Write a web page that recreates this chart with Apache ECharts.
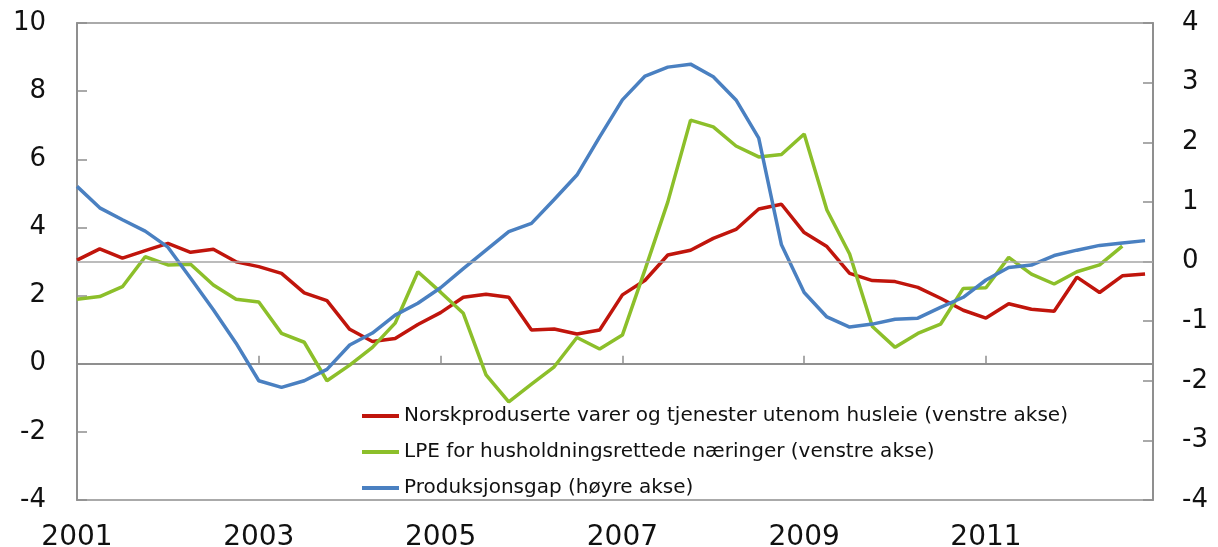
<!DOCTYPE html>
<html>
<head>
<meta charset="utf-8">
<script src="https://cdn.jsdelivr.net/npm/echarts@6/dist/echarts.min.js"></script>
<style>
  html, body { margin: 0; padding: 0; background: #fff; }
  #chart { width: 1218px; height: 547px; }
</style>
</head>
<body>
<div id="chart"></div>
<script>
// kvartalsdata 2001K1 - 2012K4 (x = kvartal nr. fra 2001K1)
var startYear = 2001
var quarters = []
for (var q = 0; q < 48; q++) quarters.push(q)

var seriesNames = [
  'Norskproduserte varer og tjenester utenom husleie (venstre akse)',
  'LPE for husholdningsrettede næringer (venstre akse)',
  'Produksjonsgap (høyre akse)'
]

// venstre akse
var norskprodusert = [3.04, 3.37, 3.10, 3.32, 3.53, 3.27, 3.36, 2.99, 2.85, 2.65,
  2.08, 1.85, 1.01, 0.65, 0.74, 1.15, 1.50, 1.95, 2.04, 1.95,
  0.99, 1.02, 0.87, 0.99, 2.02, 2.45, 3.19, 3.33, 3.68, 3.94,
  4.54, 4.68, 3.85, 3.44, 2.65, 2.44, 2.41, 2.24, 1.92, 1.57,
  1.34, 1.76, 1.60, 1.54, 2.54, 2.09, 2.58, 2.63]

var lpe = [1.89, 1.97, 2.26, 3.14, 2.90, 2.92, 2.31, 1.89, 1.81, 0.89,
  0.63, -0.50, -0.04, 0.48, 1.19, 2.70, 2.10, 1.48, -0.33, -1.12,
  -0.60, -0.09, 0.77, 0.43, 0.84, 2.77, 4.75, 7.15, 6.95, 6.39,
  6.07, 6.14, 6.74, 4.51, 3.22, 1.09, 0.48, 0.89, 1.16, 2.21,
  2.23, 3.12, 2.63, 2.34, 2.70, 2.90, 3.45, null]

// høyre akse
var produksjonsgap = [1.26, 0.90, 0.70, 0.51, 0.24, -0.28, -0.81, -1.37, -2.00, -2.11,
  -2.00, -1.81, -1.40, -1.20, -0.90, -0.70, -0.44, -0.12, 0.19, 0.50,
  0.64, 1.04, 1.45, 2.09, 2.71, 3.11, 3.26, 3.31, 3.10, 2.71,
  2.07, 0.28, -0.52, -0.93, -1.10, -1.05, -0.97, -0.95, -0.77, -0.60,
  -0.31, -0.10, -0.06, 0.10, 0.19, 0.27, 0.31, 0.35]

function pairs(arr) {
  return quarters.map(function (q, i) { return [q, arr[i]] })
}

var chart = echarts.init(document.getElementById('chart'))
var axisGrey = '#8f8f8f'
var font = 'DejaVu Sans'
var red = '#C0150C', green = '#8CBF2A', blue = '#4A80C1'

function lineSeries(name, color, axis, data) {
  return {
    name: name, type: 'line', yAxisIndex: axis, showSymbol: false,
    itemStyle: { color: color },
    lineStyle: { color: color, width: 3.5 },
    data: pairs(data)
  }
}

chart.setOption({
  animation: false,
  textStyle: { fontFamily: font },
  grid: {
    left: 77, right: 65, top: 23, bottom: 47,
    outerBoundsMode: 'none', containLabel: false,
    show: true, borderColor: axisGrey, borderWidth: 1.5, backgroundColor: 'transparent'
  },
  legend: {
    orient: 'vertical',
    left: 357, top: 401,
    icon: 'rect',
    itemWidth: 37, itemHeight: 4,
    itemGap: 16,
    data: seriesNames,
    textStyle: { fontFamily: font, fontSize: 20, color: '#111', lineHeight: 20 }
  },
  xAxis: {
    type: 'value',
    min: 0, max: 47.35, interval: 8,
    splitLine: { show: false },
    axisLine: { show: true, lineStyle: { color: axisGrey, width: 2 } },
    axisTick: { show: true, inside: true, length: 8, lineStyle: { color: axisGrey, width: 1.5 } },
    axisLabel: {
      fontFamily: font, fontSize: 28, color: '#111', margin: 24, showMaxLabel: false,
      formatter: function (v) { return v % 8 === 0 ? String(startYear + v / 4) : '' }
    }
  },
  yAxis: [
    {
      type: 'value', min: -4, max: 10, interval: 2,
      splitLine: { show: false },
      axisLine: { show: true, lineStyle: { color: axisGrey, width: 2 } },
      axisTick: { show: true, inside: true, length: 10, lineStyle: { color: axisGrey, width: 1.5 } },
      axisLabel: { fontFamily: font, fontSize: 26, color: '#111', margin: 31 }
    },
    {
      type: 'value', min: -4, max: 4, interval: 1, position: 'right',
      splitLine: { show: false },
      axisLine: { show: true, lineStyle: { color: axisGrey, width: 2 } },
      axisTick: { show: true, inside: true, length: 10, lineStyle: { color: axisGrey, width: 1.5 } },
      axisLabel: { fontFamily: font, fontSize: 26, color: '#111', margin: 29 }
    }
  ],
  series: [
    {
      // nullinje for høyre akse
      type: 'line', yAxisIndex: 1, data: [], silent: true,
      markLine: {
        silent: true, symbol: 'none', label: { show: false },
        lineStyle: { color: '#a6a6a6', width: 1.5, type: 'solid' },
        data: [{ yAxis: 0 }]
      }
    },
    lineSeries(seriesNames[0], red, 0, norskprodusert),
    lineSeries(seriesNames[1], green, 0, lpe),
    lineSeries(seriesNames[2], blue, 1, produksjonsgap)
  ]
})
window.onresize = chart.resize
</script>
</body>
</html>
